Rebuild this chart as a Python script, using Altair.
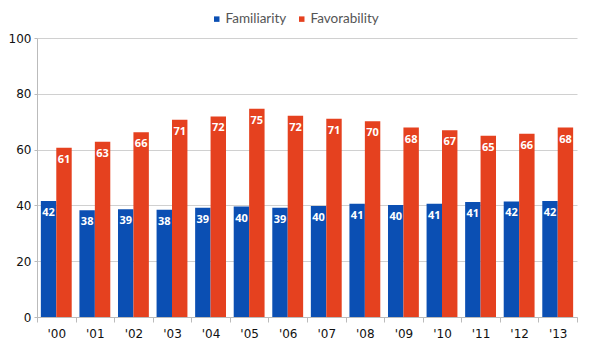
import altair as alt
import pandas as pd

years = ["'00", "'01", "'02", "'03", "'04", "'05", "'06", "'07", "'08", "'09", "'10", "'11", "'12", "'13"]
familiarity = [41.6, 38.3, 38.6, 38.4, 39.2, 39.6, 39.2, 39.8, 40.6, 40.1, 40.6, 41.2, 41.4, 41.6]
fam_labels = [42, 38, 39, 38, 39, 40, 39, 40, 41, 40, 41, 41, 42, 42]
favorability = [60.7, 62.8, 66.2, 70.7, 71.9, 74.6, 72.1, 71.1, 70.2, 67.9, 66.9, 65.0, 65.7, 67.9]
fav_labels = [61, 63, 66, 71, 72, 75, 72, 71, 70, 68, 67, 65, 66, 68]
series = ["Familiarity", "Favorability"]
colors = ["#0B4FB3", "#E5411F"]

rows = []
for i, y in enumerate(years):
    rows.append({"year": y, "series": series[0], "value": familiarity[i], "label": str(fam_labels[i])})
    rows.append({"year": y, "series": series[1], "value": favorability[i], "label": str(fav_labels[i])})
df = pd.DataFrame(rows)

x = alt.X("year:N", sort=years, title=None,
          scale=alt.Scale(paddingInner=0, paddingOuter=0),
          axis=alt.Axis(labelAngle=0, tickBand="extent", labelFont="DejaVu Sans", labelFontSize=12,
                        labelColor="#111", domainColor="#bbb", tickColor="#bbb", tickSize=5,
                        grid=False, labelPadding=6))
xo = alt.XOffset("series:N", sort=series, scale=alt.Scale(paddingInner=0, paddingOuter=0.25))
y = alt.Y("value:Q", title=None, scale=alt.Scale(domain=[0, 100]),
          axis=alt.Axis(values=[0, 20, 40, 60, 80, 100], labelFont="DejaVu Sans", labelFontSize=12,
                        labelColor="#111", domainColor="#bbb", tickColor="#bbb", tickSize=3,
                        gridColor="#d0d0d0", labelPadding=3))

bars = alt.Chart(df).mark_bar().encode(
    x=x, xOffset=xo, y=y,
    color=alt.Color("series:N", sort=series,
                    scale=alt.Scale(domain=series, range=colors),
                    legend=alt.Legend(title=None, orient="none", direction="horizontal",
                                      legendX=173, legendY=-26, symbolType="square",
                                      symbolSize=30, labelFont="Lato", labelFontSize=13.5,
                                      labelColor="#555", columnPadding=8, symbolOffset=0,
                                      labelOffset=2)),
)

labels = alt.Chart(df).mark_text(baseline="middle", dy=12, color="white", font="Open Sans",
                                 fontWeight="bold", fontSize=11).encode(
    x=x, xOffset=xo, y=y, text="label:N"
)

chart = alt.layer(bars, labels).properties(
    width=540, height=279,
    autosize=alt.AutoSizeParams(type="none"),
    padding={"left": 37, "top": 38, "right": 23, "bottom": 28},
).configure_view(stroke=None)

chart.save("out.html", embed_options={"renderer": "svg", "actions": False})
